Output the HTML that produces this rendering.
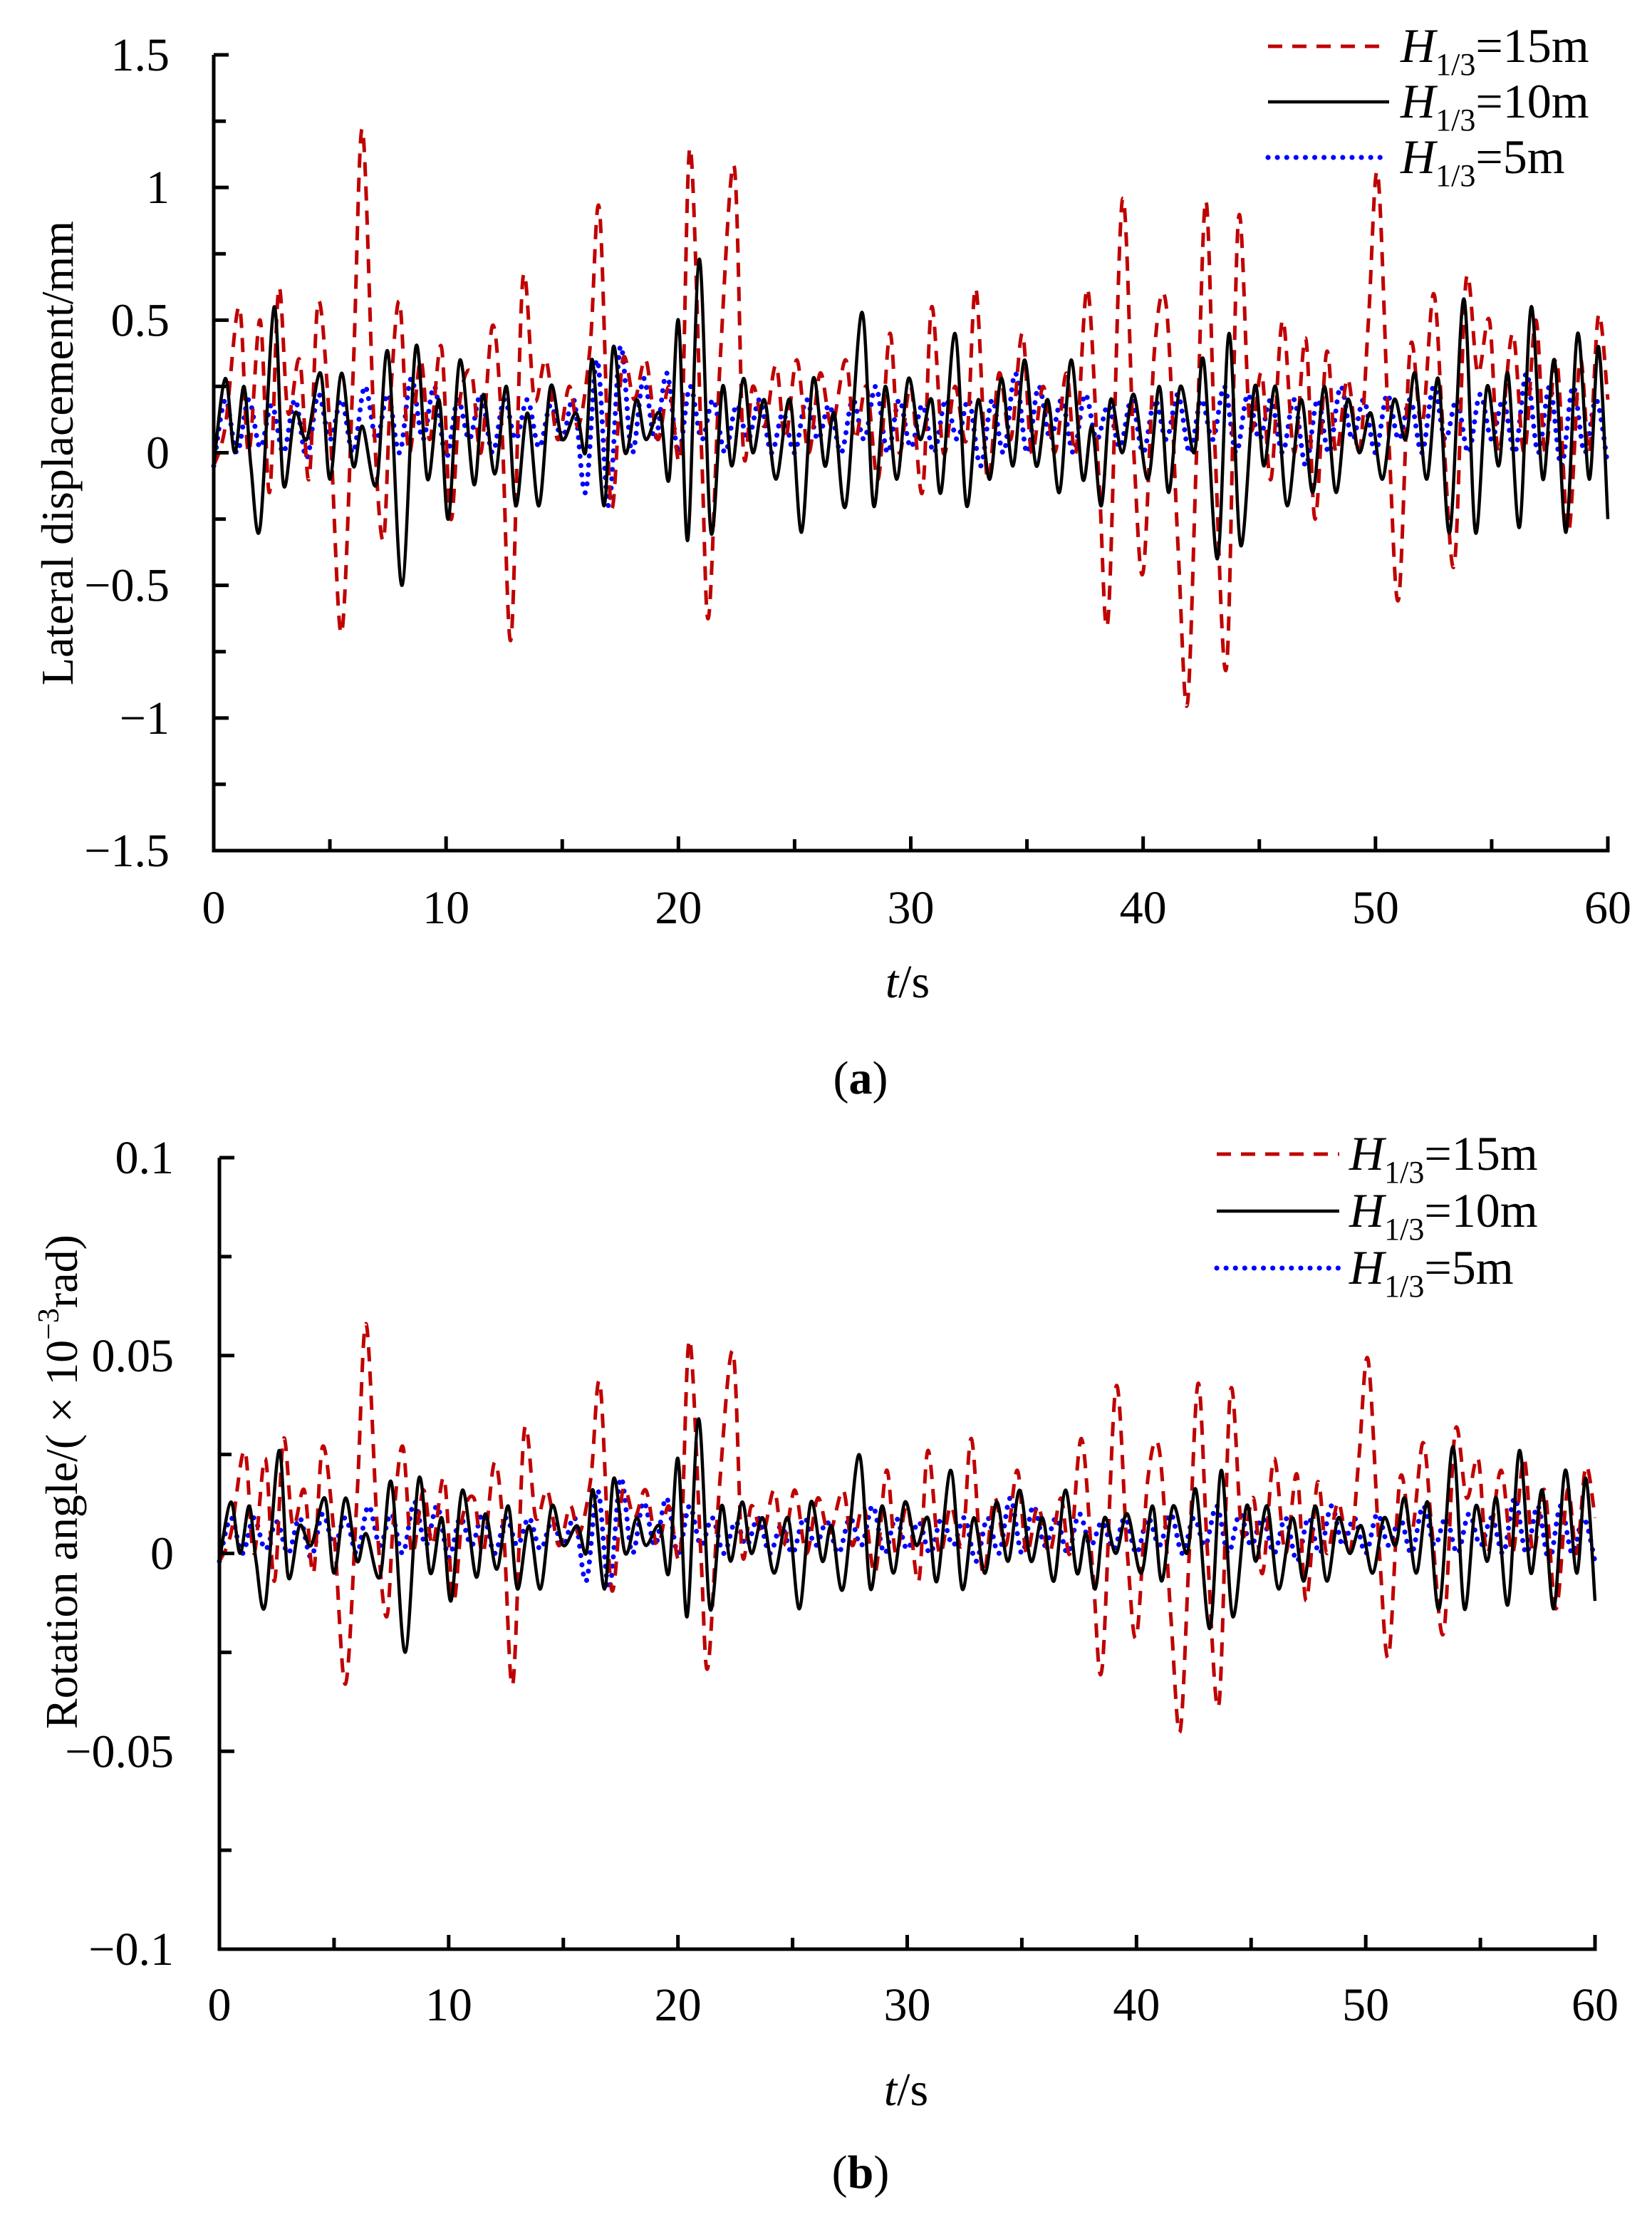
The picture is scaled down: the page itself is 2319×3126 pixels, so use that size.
<!DOCTYPE html>
<html><head><meta charset="utf-8"><style>
html,body{margin:0;padding:0;background:#fff}
svg{display:block}
text{font-family:"Liberation Serif",serif;fill:#000}
</style></head><body>
<svg id="fig" width="2319" height="3126" viewBox="0 0 2319 3126" xmlns="http://www.w3.org/2000/svg"></svg>
<script>
// ---- data (panel a: lateral displacement, mm) ----
const redT=[0,0.5,1.1,1.5,2,2.4,2.8,3.2,3.7,4.1,4.5,5.0,5.5,6.0,6.4,6.9,7.3,7.6,8,8.4,8.9,9.3,9.8,10.2,10.6,11.1,11.5,12,12.4,12.8,13.3,13.8,14.3,14.8,15.3,15.7,16.2,16.6,17.1,17.6,18.1,18.6,19.1,19.6,20.1,20.5,21,21.3,21.8,22.4,22.8,23.2,23.7,24.2,24.6,25.1,25.6,26.1,26.6,27.2,27.6,28.1,28.6,29.1,29.5,30,30.5,30.9,31.4,31.9,32.4,32.8,33.3,33.8,34.3,34.8,35.2,35.7,36.2,36.7,37.1,37.6,38.1,38.5,39.1,39.6,40,40.5,41,41.5,41.9,42.3,42.7,43.1,43.6,44.1,44.6,45.1,45.5,46,46.5,47,47.4,47.9,48.3,48.8,49.3,49.7,50.1,50.6,51,51.5,52,52.5,52.9,53.4,53.9,54.4,54.9,55.3,55.9,56.4,56.9,57.3,57.8,58.3,58.8,59.2,59.6,60];
const redA=[-0.05,0.1,0.55,0,0.5,-0.15,0.62,0.15,0.35,-0.1,0.57,0.1,-0.68,0.3,1.22,0.1,-0.33,0.2,0.57,0,0.35,0.05,0.4,-0.25,0.2,0.3,0,0.48,0.1,-0.7,0.65,0.2,0.35,0.05,0.25,0.1,0.4,0.92,-0.2,0.35,0.2,0.35,0.05,0.25,0,1.15,0,-0.62,0.35,1.08,0,0.25,0.1,0.33,0.05,0.35,0,0.3,0.1,0.35,0.05,0.25,-0.1,0.45,0,0.25,-0.15,0.55,0,0.25,0.05,0.62,-0.1,0.3,0.05,0.45,0,0.25,0,0.3,0,0.62,-0.1,-0.62,0.95,0,-0.45,0.4,0.55,-0.35,-0.95,0,0.95,0,-0.8,0.88,0.1,0.3,-0.1,0.5,0,0.43,-0.25,0.38,0,0.28,0,0.5,1.05,0,-0.55,0.4,0.1,0.6,0.1,-0.42,0.65,0.3,0.5,0,0.45,0,0.5,0,0.35,-0.3,0.35,0,0.52,0.2];
const blackT=[0,0.5,0.9,1.3,1.6,2,2.6,3,3.5,4,4.6,5,5.5,6,6.4,7,7.5,8.1,8.7,9.2,9.7,10.1,10.6,11.2,11.6,12.1,12.6,13,13.5,14,14.5,15,15.6,16,16.3,16.8,17.2,17.7,18.2,18.6,19.2,19.6,20,20.4,20.9,21.4,21.9,22.3,22.8,23.2,23.7,24.2,24.8,25.3,25.8,26.3,26.7,27.2,27.9,28.4,28.9,29.4,29.9,30.4,30.9,31.3,31.9,32.4,32.9,33.4,33.9,34.4,34.9,35.4,35.9,36.4,36.9,37.4,37.8,38.2,38.6,39.1,39.6,40.2,40.7,41.1,41.6,42.2,42.6,43.2,43.7,44.2,44.8,45.2,45.7,46.2,46.8,47.3,47.8,48.3,48.8,49.3,49.8,50.3,50.8,51.3,51.7,52.2,52.7,53.2,53.8,54.3,54.8,55.3,55.7,56.2,56.7,57.2,57.7,58.2,58.7,59.2,59.6,60];
const blackA=[-0.05,0.28,0,0.25,-0.05,-0.28,0.55,-0.12,0.15,0.05,0.3,-0.1,0.3,-0.05,0.1,-0.12,0.38,-0.5,0.4,-0.1,0.2,-0.25,0.35,-0.12,0.22,-0.08,0.25,-0.2,0.15,-0.2,0.25,0.05,0.15,0,0.35,-0.2,0.4,0,0.2,0.05,0.15,-0.1,0.5,-0.33,0.73,-0.3,0.25,-0.05,0.28,0,0.2,-0.1,0.2,-0.3,0.28,-0.05,0.15,-0.2,0.53,-0.2,0.25,-0.1,0.28,0.05,0.2,-0.15,0.45,-0.2,0.2,-0.1,0.28,-0.05,0.35,-0.05,0.2,-0.15,0.35,-0.1,0.1,-0.2,0.2,0,0.22,-0.1,0.25,-0.15,0.25,0,0.35,-0.4,0.45,-0.35,0.25,-0.05,0.25,-0.2,0.2,-0.15,0.25,-0.15,0.2,0,0.15,-0.1,0.2,0.05,0.3,-0.1,0.28,-0.3,0.58,-0.3,0.25,-0.05,0.3,-0.28,0.55,-0.1,0.35,-0.3,0.45,-0.1,0.4,-0.25];
const blueA=[-0.05,0.2,0.0,0.2,0.02,0.18,0.0,0.2,-0.02,0.22,0.05,0.2,0.0,0.25,0.05,0.22,0.0,0.28,0.05,0.25,-0.02,0.2,0.05,0.22,0.0,0.2,0.05,0.2,0.02,0.18,0.05,0.2,-0.15,0.35,-0.2,0.4,0.0,0.28,0.05,0.3,0.0,0.25,0.05,0.2,0.0,0.18,0.05,0.2,0.0,0.15,0.0,0.2,0.05,0.18,0.0,0.2,0.05,0.25,0.0,0.2,0.02,0.18,0.0,0.2,0.05,0.2,-0.05,0.2,0.0,0.3,0.0,0.25,0.05,0.2,0.0,0.22,0.05,0.18,0.02,0.2,0.0,0.2,0.05,0.22,0.0,0.2,0.05,0.25,0.0,0.22,0.05,0.2,0.0,0.2,-0.05,0.2,0.0,0.25,0.05,0.2,0.0,0.22,0.05,0.2,0.0,0.25,0.05,0.2,0.0,0.22,0.05,0.2,0.0,0.3,0.0,0.25,-0.05,0.25,0.0,0.2,-0.05];
// ---- data (panel b: rotation angle, in units of 0.001 on the plotted axis) ----
const redB=[-2,5,26,0,24,-7,29,7,16,-5,27,5,-33,14,58,5,-16,9,27,0,16,2,19,-12,9,14,0,23,5,-33,31,9,16,2,12,5,19,43,-9,16,9,16,2,12,0,54,0,-29,16,51,0,12,5,16,2,16,0,14,5,16,2,12,-5,21,0,12,-7,26,0,12,2,29,-5,14,2,21,0,12,0,14,0,29,-5,-29,42,0,-21,19,26,-16,-45,0,43,0,-38,41,5,14,-5,24,0,20,-12,18,0,13,0,24,49,0,-26,19,5,28,5,-20,31,14,24,0,21,0,24,0,16,-14,16,0,22,9];
const blackB=[-2,13,0,12,-2,-13,26,-6,7,2,14,-5,14,-2,5,-6,18,-25,19,-5,9,-12,16,-6,10,-4,12,-9,7,-9,12,2,7,0,16,-9,19,0,9,2,7,-5,24,-16,34,-14,12,-2,13,0,9,-5,9,-14,13,-2,7,-9,25,-9,12,-5,13,2,9,-7,21,-9,9,-5,13,-2,16,-2,9,-7,16,-5,5,-9,9,0,10,-5,12,-7,12,0,16,-19,21,-16,12,-2,12,-9,9,-7,12,-7,9,0,7,-5,9,2,14,-5,13,-14,27,-14,12,-2,14,-13,26,-5,16,-14,21,-5,19,-12];
const blueB=[-2,9,0,9,1,8,0,9,-1,10,2,9,0,12,2,10,0,13,2,12,-1,9,2,10,0,9,2,9,1,8,2,9,-7,16,-9,19,0,13,2,14,0,12,2,9,0,8,2,9,0,7,0,9,2,8,0,9,2,12,0,9,1,8,0,9,2,9,-2,9,0,14,0,12,2,9,0,10,2,8,1,9,0,9,2,10,0,9,2,12,0,10,2,9,0,9,-2,9,0,12,2,9,0,10,2,9,0,12,2,9,0,10,2,9,0,14,0,12,-2,12,0,9,-2];
const xTicks=[0,10,20,30,40,50,60];
const yTicksA=[1.5,1,0.5,0,-0.5,-1,-1.5];
const yLabelsA=["1.5","1","0.5","0","\u22120.5","\u22121","\u22121.5"];
const yTicksB=[0.1,0.05,0,-0.05,-0.1];
const yLabelsB=["0.1","0.05","0","\u22120.05","\u22120.1"];

const NS="http://www.w3.org/2000/svg";
const svg=document.getElementById('fig');
function mk(tag,attrs,parent){const e=document.createElementNS(NS,tag);for(const k in attrs)e.setAttribute(k,attrs[k]);(parent||svg).appendChild(e);return e;}
function spline(pts){let d=`M${pts[0][0].toFixed(1)},${pts[0][1].toFixed(1)}`;for(let i=0;i<pts.length-1;i++){const p0=pts[i-1]||pts[i],p1=pts[i],p2=pts[i+1],p3=pts[i+2]||p2;const c1x=p1[0]+(p2[0]-p0[0])/6,c1y=p1[1]+(p2[1]-p0[1])/6,c2x=p2[0]-(p3[0]-p1[0])/6,c2y=p2[1]-(p3[1]-p1[1])/6;d+=`C${c1x.toFixed(1)},${c1y.toFixed(1)} ${c2x.toFixed(1)},${c2y.toFixed(1)} ${p2[0].toFixed(1)},${p2[1].toFixed(1)}`;}return d;}
const styles={red:{stroke:'#c00000','stroke-width':5,'stroke-dasharray':'20 14',fill:'none'},black:{stroke:'#000','stroke-width':4.5,fill:'none'},blue:{stroke:'#0000ff','stroke-width':7,'stroke-dasharray':'0.1 13','stroke-linecap':'round',fill:'none'}};

function panel(cfg){
  const g=mk('g',{});
  
  
  const X=t=>cfg.x0+(t-0)/(60-0)*(cfg.x1-cfg.x0);
  const Y=v=>cfg.y0+(cfg.vmax-v)/(cfg.vmax-cfg.vmin)*(cfg.y1-cfg.y0);
  const order=[['blue',cfg.blue],['red',cfg.red],['black',cfg.black]];
  order.forEach(([k,s])=>{
    const t=s.t, v=s.v;
    const n=Math.min(t.length,v.length);
    const pts=[];for(let i=0;i<n;i++)pts.push([X(t[i]),Y(v[i]*s.scale)]);
    const p=mk('path',Object.assign({d:spline(pts)},styles[k]),g);
    
    
  });
  const ax=mk('path',{d:`M${cfg.x0},${cfg.y0} L${cfg.x0},${cfg.y1} L${cfg.x1},${cfg.y1} L${cfg.x1},${cfg.y1-20}`,stroke:'#000','stroke-width':5,fill:'none'},g);
  
  
  cfg.yt.forEach((v,i)=>{
    mk('line',{x1:cfg.x0,x2:cfg.x0+21,y1:Y(v),y2:Y(v),stroke:'#000','stroke-width':5},g);
    const tx=mk('text',{x:cfg.lblX,y:Y(v)+22,'text-anchor':'end','font-size':66},g);
    tx.textContent=cfg.yl[i];
    
    
    if(i<cfg.yt.length-1){const m=(v+cfg.yt[i+1])/2;mk('line',{x1:cfg.x0,x2:cfg.x0+17,y1:Y(m),y2:Y(m),stroke:'#000','stroke-width':5},g);}
  });
  xTicks.forEach((t,i)=>{
    mk('line',{x1:X(t),x2:X(t),y1:cfg.y1,y2:cfg.y1-20,stroke:'#000','stroke-width':5},g);
    if(i<xTicks.length-1){const m=(t+xTicks[i+1])/2;mk('line',{x1:X(m),x2:X(m),y1:cfg.y1,y2:cfg.y1-16,stroke:'#000','stroke-width':5},g);}
    const tx=mk('text',{x:X(t),y:cfg.y1+cfg.xlOff,'text-anchor':'middle','font-size':66},g);
    tx.textContent=String(t);
    
    
  });
  const L=cfg.leg;
  [['red','15m'],['black','10m'],['blue','5m']].forEach(([k,lab],i)=>{
    const y=L.y+i*L.dy;
    const ln=mk('line',Object.assign({x1:L.x1,x2:L.x2,y1:y,y2:y},styles[k]),g);
    
    
    const tx=mk('text',{x:L.tx,y:y+22,'font-size':68},g);
    tx.innerHTML=`<tspan font-style="italic">H</tspan><tspan font-size="44" dy="18">1/3</tspan><tspan dy="-18">=${lab}</tspan>`;
    
    
  });
}

panel({name:'panel-a',x0:300,x1:2257,y0:77,y1:1194,vmax:1.5,vmin:-1.5,yt:yTicksA,yl:yLabelsA,lblX:238,xlOff:102,
  red:{t:redT,v:redA,scale:1},black:{t:blackT,v:blackA,scale:1},blue:{t:blueA.map((_,i)=>i*60/(blueA.length-1)),v:blueA,scale:1},
  leg:{x1:1780,x2:1950,y:65,dy:78,tx:1966}});
panel({name:'panel-b',x0:308,x1:2239,y0:1625,y1:2736,vmax:0.1,vmin:-0.1,yt:yTicksB,yl:yLabelsB,lblX:244,xlOff:100,
  red:{t:redT,v:redB,scale:0.001},black:{t:blackT,v:blackB,scale:0.001},blue:{t:blueB.map((_,i)=>i*60/(blueB.length-1)),v:blueB,scale:0.001},
  leg:{x1:1708,x2:1880,y:1620,dy:80,tx:1894}});

function txt(x,y,html,attrs,name){const t=mk('text',Object.assign({x:x,y:y,'font-size':64},attrs||{}));t.innerHTML=html;return t;}
txt(0,0,'Lateral displacement/mm',{'text-anchor':'middle',transform:'translate(102,636) rotate(-90)'},'y-axis-title-a');
txt(0,0,'Rotation angle/( × 10<tspan font-size="42" dy="-26">−3</tspan><tspan dy="26">rad)</tspan>',{'text-anchor':'middle',transform:'translate(108,2080) rotate(-90)'},'y-axis-title-b');
txt(1274,1400,'<tspan font-style="italic">t</tspan>/s',{'text-anchor':'middle','font-size':66},'x-axis-title-a');
txt(1272,2955,'<tspan font-style="italic">t</tspan>/s',{'text-anchor':'middle','font-size':66},'x-axis-title-b');
txt(1208,1535,'(<tspan font-weight="bold">a</tspan>)',{'text-anchor':'middle','font-size':66},'panel-label-a');
txt(1208,3071,'(<tspan font-weight="bold">b</tspan>)',{'text-anchor':'middle','font-size':66},'panel-label-b');
</script>
</body></html>
